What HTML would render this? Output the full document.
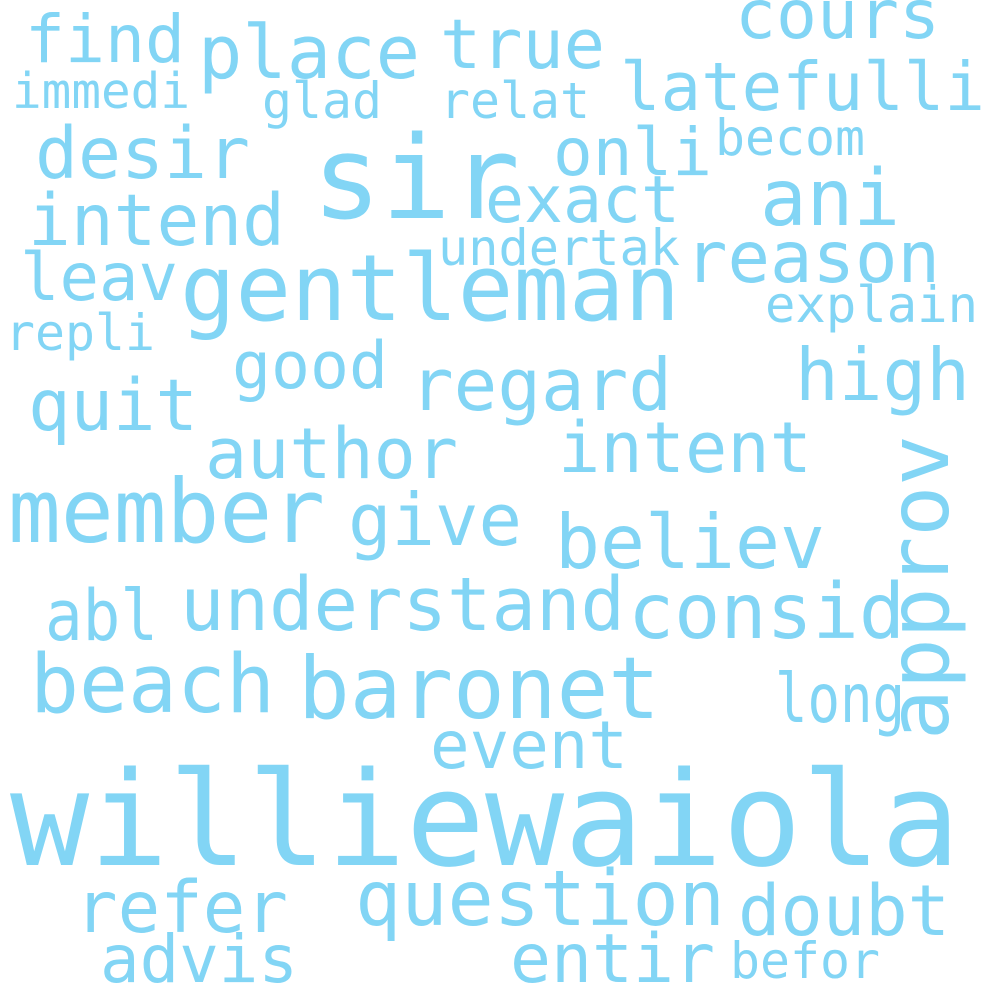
<!DOCTYPE html>
<html><head><meta charset="utf-8"><style>
html,body{margin:0;padding:0;background:#fff;}
svg{display:block;}
text{font-family:"DejaVu Sans Mono","Liberation Mono",monospace;fill:#82d5f5;}
</style></head><body>
<svg id="cloud" width="1000" height="1000" viewBox="0 0 1000 1000"></svg>
<script>
const words = ["williewaiola","sir","gentleman","baronet","beach","member","understand","consid","question","doubt","refer","advis","entir","befor","event","long","abl","approv","give","believ","author","intent","quit","regard","good","high","leav","repli","explain","undertak","reason","intend","exact","ani","desir","onli","becom","immedi","glad","relat","find","place","true","cours","latefulli"];
const sizes = [131,115,92,86,81,88,74,77,77,70,71,66,68,50,66,68,70,84,72,75,70,70,71,72,65,72,66,50,50,50,71,71,65,78,71,66,50,49,50,50,66,74,69,68,67];
const layout = [
[10,865,950],[312,218,208],[180,320,500],[298,718,362],[30,712,245],[8,542,317],[180,630,445],[628,638,277],[355,925,370],[738,935,212],[75,932,213],[100,982,198],[510,982,205],[730,978,150],[430,768,198],[775,722,130],[45,640,113],[740,948,305,1],[348,545,174],[555,568,270],[205,478,253],[558,472,254],[28,430,170],[410,410,262],[232,388,156],[795,400,175],[20,300,158],[5,350,150],[765,322,213],[438,265,242],[685,282,255],[28,245,257],[485,222,195],[760,225,140],[35,178,215],[553,175,159],[715,155,150],[12,108,178],[262,118,120],[440,118,150],[25,62,160],[198,78,222],[440,68,165],[735,38,205],[620,110,365]];
const svg = document.getElementById('cloud');
const NS = 'http://www.w3.org/2000/svg';
words.forEach((w,i)=>{
  const [x,y,len,rot] = layout[i];
  const t = document.createElementNS(NS,'text');
  
  
  t.setAttribute('font-size', sizes[i]);
  t.setAttribute('textLength', len);
  t.setAttribute('lengthAdjust', 'spacingAndGlyphs');
  if (rot) {
    t.setAttribute('x', 0); t.setAttribute('y', 0);
    t.setAttribute('transform', 'translate(' + y + ',' + x + ') rotate(-90)');
  } else {
    t.setAttribute('x', x); t.setAttribute('y', y);
  }
  t.textContent = w;
  svg.appendChild(t);
});
</script>
</body></html>
